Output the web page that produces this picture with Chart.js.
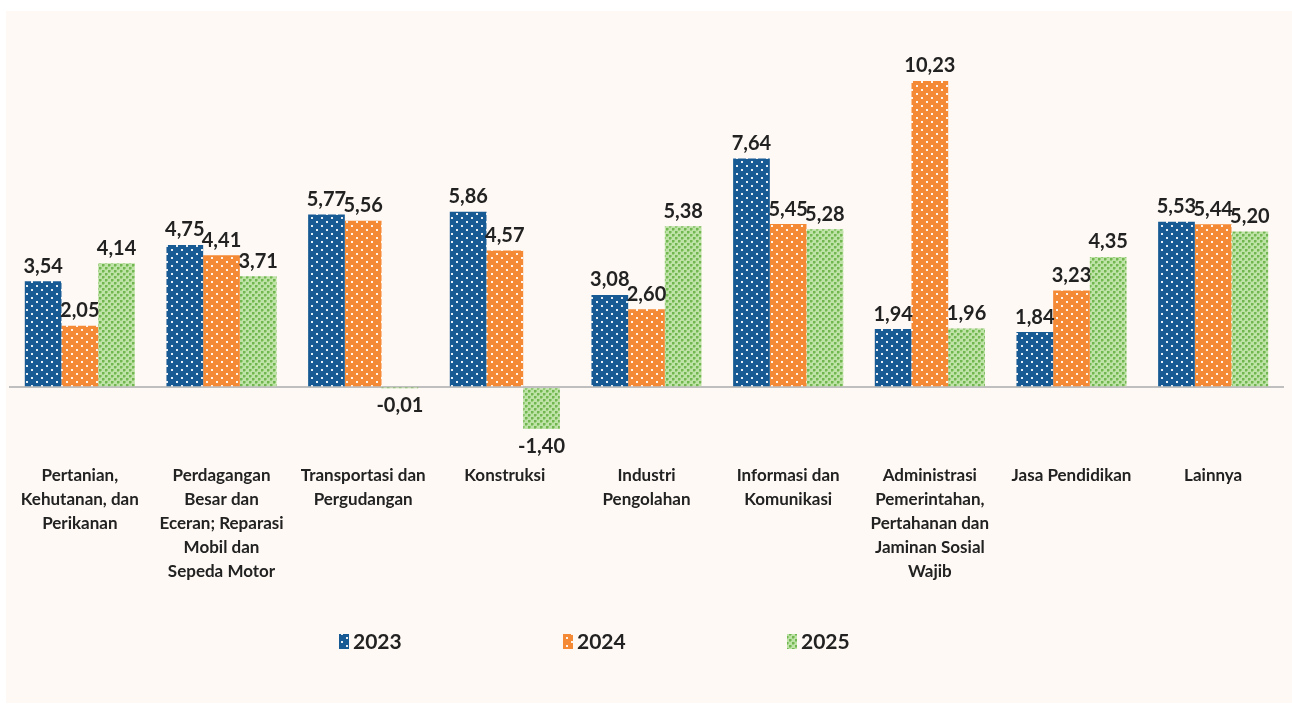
<!DOCTYPE html>
<html>
<head>
<meta charset="utf-8">
<script src="https://cdn.jsdelivr.net/npm/chart.js@4.4.0/dist/chart.umd.min.js"></script>
<style>
  html, body { margin: 0; padding: 0; background: #ffffff; }
  #panel { position: absolute; left: 6px; top: 11px; width: 1286px; height: 692px; background: #fef9f4; }
  #wrap { position: absolute; left: 0; top: 0; width: 1292px; height: 713px; }
</style>
</head>
<body>
<div id="panel"></div>
<div id="wrap"><canvas id="growthChart"></canvas></div>
<script>
'use strict';

/* --- Data --- */
const categories = [
  ['Pertanian,', 'Kehutanan, dan', 'Perikanan'],
  ['Perdagangan', 'Besar dan', 'Eceran; Reparasi', 'Mobil dan', 'Sepeda Motor'],
  ['Transportasi dan', 'Pergudangan'],
  ['Konstruksi'],
  ['Industri', 'Pengolahan'],
  ['Informasi dan', 'Komunikasi'],
  ['Administrasi', 'Pemerintahan,', 'Pertahanan dan', 'Jaminan Sosial', 'Wajib'],
  ['Jasa Pendidikan'],
  ['Lainnya']
];
const years = ['2023', '2024', '2025'];
const values2023 = [3.54, 4.75, 5.77, 5.86, 3.08, 7.64, 1.94, 1.84, 5.53];
const values2024 = [2.05, 4.41, 5.56, 4.57, 2.60, 5.45, 10.23, 3.23, 5.44];
const values2025 = [4.14, 3.71, -0.01, -1.40, 5.38, 5.28, 1.96, 4.35, 5.20];

/* --- Pattern fills --- */
function dotPattern(base) {
  const c = document.createElement('canvas');
  c.width = 10; c.height = 8;
  const g = c.getContext('2d');
  g.fillStyle = base;
  g.fillRect(0, 0, 10, 8);
  g.fillStyle = 'rgba(255,255,255,0.9)';
  g.fillRect(1, 1, 2, 2);
  g.fillRect(6, 5, 2, 2);
  return g.createPattern(c, 'repeat');
}

function crossPattern() {
  const c = document.createElement('canvas');
  c.width = 6; c.height = 6;
  const g = c.getContext('2d');
  g.fillStyle = '#bfe2a8';
  g.fillRect(0, 0, 6, 6);
  g.fillStyle = '#72b651';
  g.fillRect(0, 0, 2, 2);
  g.fillRect(3, 3, 2, 2);
  g.fillStyle = '#96cd77';
  g.fillRect(2, 0, 1, 2);
  g.fillRect(0, 2, 2, 1);
  g.fillRect(5, 3, 1, 2);
  g.fillRect(3, 5, 2, 1);
  return g.createPattern(c, 'repeat');
}

const fill2023 = dotPattern('#185a93');
const fill2024 = dotPattern('#f58a36');
const fill2025 = crossPattern();

/* --- Value labels plugin --- */
const valueLabels = {
  id: 'valueLabels',
  afterDatasetsDraw(chart) {
    const ctx = chart.ctx;
    ctx.save();
    ctx.font = 'bold 20px Lato';
    ctx.fillStyle = '#222222';
    ctx.textAlign = 'center';
    chart.data.datasets.forEach((ds, i) => {
      const meta = chart.getDatasetMeta(i);
      meta.data.forEach((bar, j) => {
        const v = ds.data[j];
        const txt = v.toFixed(2).replace('.', ',');
        if (v >= 0) {
          ctx.textBaseline = 'bottom';
          ctx.fillText(txt, bar.x, bar.y - 5);
        } else {
          ctx.textBaseline = 'top';
          ctx.fillText(txt, bar.x, bar.y + 8);
        }
      });
    });
    ctx.restore();
  }
};

/* --- Legend plugin (wide spacing like the original) --- */
const wideLegend = {
  id: 'wideLegend',
  afterDraw(chart) {
    const ctx = chart.ctx;
    const y = chart.height - 72;
    const startX = 339, step = 224;
    ctx.save();
    ctx.font = 'bold 21px Lato';
    ctx.textBaseline = 'middle';
    ctx.textAlign = 'left';
    chart.data.datasets.forEach((ds, i) => {
      const x = startX + i * step;
      ctx.fillStyle = ds.backgroundColor;
      ctx.fillRect(x, y - 7, 10, 15);
      ctx.fillStyle = '#222222';
      ctx.fillText(ds.label, x + 14, y + 1);
    });
    ctx.restore();
  }
};

/* --- Chart --- */
const ctx = document.getElementById('growthChart');
new Chart(ctx, {
  type: 'bar',
  data: {
    labels: categories,
    datasets: [
      { label: years[0], data: values2023, backgroundColor: fill2023 },
      { label: years[1], data: values2024, backgroundColor: fill2024 },
      { label: years[2], data: values2025, backgroundColor: fill2025 }
    ]
  },
  options: {
    responsive: true, maintainAspectRatio: false,
    animation: false,
    categoryPercentage: 0.777,
    barPercentage: 1.0,
    layout: { padding: { top: 58, left: 9, right: 8, bottom: 121 } },
    plugins: {
      tooltip: { enabled: false },
      legend: { display: false }
    },
    scales: {
      x: {
        grid: { display: false },
        border: { display: false },
        ticks: {
          autoSkip: false, maxRotation: 0, minRotation: 0,
          padding: 9,
          color: '#222222',
          font: { family: 'Lato', size: 17, weight: 'bold', lineHeight: 1.4 }
        }
      },
      y: {
        min: -2, max: 11,
        ticks: { display: false, stepSize: 1 },
        border: { display: false },
        grid: {
          drawTicks: false,
          lineWidth: 2,
          color: c => c.tick && c.tick.value === 0 ? '#bfbfbf' : 'transparent'
        }
      }
    }
  },
  plugins: [valueLabels, wideLegend]
});
</script>
</body>
</html>
